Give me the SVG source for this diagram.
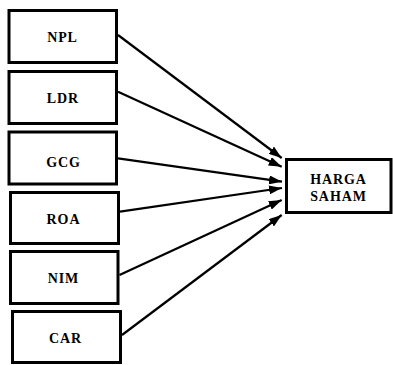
<svg xmlns="http://www.w3.org/2000/svg" width="393" height="365" viewBox="0 0 393 365">
<defs>
<style>
.box{fill:#fff;stroke:#000;stroke-width:3}
.lbl{font-family:"Liberation Serif","DejaVu Serif",serif;font-weight:bold;font-size:14px;letter-spacing:0.9px;fill:#000;text-anchor:middle}
.con{stroke:#000;stroke-width:2.2;fill:none}
</style>
<marker id="ah" viewBox="0 0 13 9" refX="13" refY="4.5" markerWidth="13" markerHeight="9" markerUnits="userSpaceOnUse" orient="auto">
<path d="M0,0 L13,4.5 L0,9 Z" fill="#000"/>
</marker>
</defs>
<rect width="393" height="365" fill="#fff"/>
<g id="npl"><rect class="box" x="9" y="10.5" width="107.5" height="52"/><text class="lbl" x="62.5" y="42">NPL</text></g>
<g id="ldr"><rect class="box" x="9" y="71.5" width="107.5" height="52"/><text class="lbl" x="63" y="102.7">LDR</text></g>
<g id="gcg"><rect class="box" x="9" y="132" width="107.5" height="52"/><text class="lbl" x="63.5" y="166.7">GCG</text></g>
<g id="roa"><rect class="box" x="10.5" y="192.5" width="108" height="51"/><text class="lbl" x="63.5" y="224">ROA</text></g>
<g id="nim"><rect class="box" x="10.5" y="251.5" width="107.5" height="52"/><text class="lbl" x="63.5" y="283">NIM</text></g>
<g id="car"><rect class="box" x="12.5" y="311.5" width="108" height="51"/><text class="lbl" x="65.5" y="342.7">CAR</text></g>
<g id="harga"><rect class="box" x="286.5" y="159.5" width="104.5" height="53"/><text class="lbl" x="338.5" y="184">HARGA</text><text class="lbl" x="338.5" y="201">SAHAM</text></g>
<g id="connectors">
<line class="con" x1="118" y1="35" x2="281.7" y2="158" marker-end="url(#ah)"/>
<line class="con" x1="118" y1="91.7" x2="281.7" y2="166.7" marker-end="url(#ah)"/>
<line class="con" x1="118" y1="158.3" x2="282" y2="181.7" marker-end="url(#ah)"/>
<line class="con" x1="120" y1="211.7" x2="282" y2="188" marker-end="url(#ah)"/>
<line class="con" x1="119.5" y1="275" x2="281.7" y2="200" marker-end="url(#ah)"/>
<line class="con" x1="122" y1="335" x2="281.7" y2="215" marker-end="url(#ah)"/>
</g>
</svg>
